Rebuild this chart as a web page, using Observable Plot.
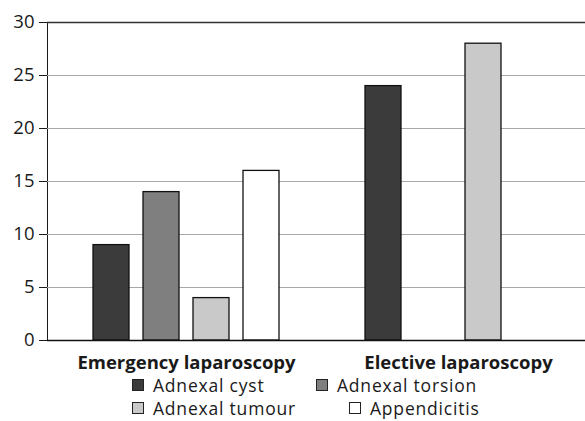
<!DOCTYPE html>
<html><head><meta charset="utf-8">
<script src="https://cdn.jsdelivr.net/npm/d3@7"></script>
<script src="https://cdn.jsdelivr.net/npm/@observablehq/plot@0.6"></script>
<style>
html,body{margin:0;padding:0;background:#fff;overflow:hidden;width:585px;height:421px}
#wrap{position:relative;width:585px;height:421px;font-family:"Open Sans",sans-serif;color:#1a1a1a}
#wrap svg{display:block}
.item{position:absolute;display:flex;align-items:center;font-size:17.5px;line-height:18px;letter-spacing:0.8px;white-space:nowrap}
.sw{width:10px;height:10px;border:1px solid #222;margin-right:9px;flex:none}
</style></head>
<body><div id="wrap"></div>
<script>
const groups = ["Emergency laparoscopy", "Elective laparoscopy"];
const series = ["Adnexal cyst", "Adnexal torsion", "Adnexal tumour", "Appendicitis"];
const emergencyValues = [9, 14, 4, 16];
const electiveValues = [24, 0, 28, 0];
const seriesColors = ["#3b3b3b", "#7f7f7f", "#c9c9c9", "#ffffff"];
const yTicks = [0, 5, 10, 15, 20, 25, 30];

const valuesByGroup = [emergencyValues, electiveValues];
const data = groups.flatMap((g, gi) =>
  series.map((s, si) => ({group: g, series: s, value: valuesByGroup[gi][si]}))
).filter(d => d.value > 0);

const chart = Plot.plot({
  width: 585,
  height: 374,
  marginLeft: 47,
  marginRight: -6,
  marginTop: 22,
  marginBottom: 34,
  style: {fontFamily: '"Open Sans", sans-serif', fontSize: "18.5px", color: "#1a1a1a", background: "#fff"},
  fx: {domain: groups, padding: 0, label: null},
  x: {domain: series, paddingInner: 0.28, paddingOuter: 0.86, align: 0.535, axis: null},
  y: {domain: [0, 30], ticks: yTicks, tickSize: 8, tickPadding: 5, line: true, label: null},
  color: {domain: series, range: seriesColors},
  marks: [
    Plot.gridY(yTicks.slice(1, -1), {stroke: "#a8a8a8", strokeOpacity: 1, strokeWidth: 1.2}),
    Plot.ruleY([30], {stroke: "#333", strokeWidth: 1.3}),
    Plot.barY(data, {fx: "group", x: "series", y: "value", fill: "series", stroke: "#111", strokeWidth: 1.3}),
    Plot.ruleY([0], {stroke: "#111", strokeWidth: 1.3}),
    Plot.axisFx({anchor: "bottom", tickSize: 0, tickPadding: 15, dx: 3, fontWeight: "bold", label: null})
  ]
});

const wrap = document.getElementById("wrap");
wrap.appendChild(chart);

// legend (HTML, below the svg)
const legendPos = [[132, 376], [316, 376], [132, 399], [349, 399]];
series.forEach((s, i) => {
  const it = document.createElement("div");
  it.className = "item";
  it.style.left = legendPos[i][0] + "px";
  it.style.top = legendPos[i][1] + "px";
  const sw = document.createElement("span");
  sw.className = "sw";
  sw.style.background = seriesColors[i];
  const tx = document.createElement("span");
  tx.textContent = s;
  it.appendChild(sw);
  it.appendChild(tx);
  wrap.appendChild(it);
});
</script>
</body></html>
